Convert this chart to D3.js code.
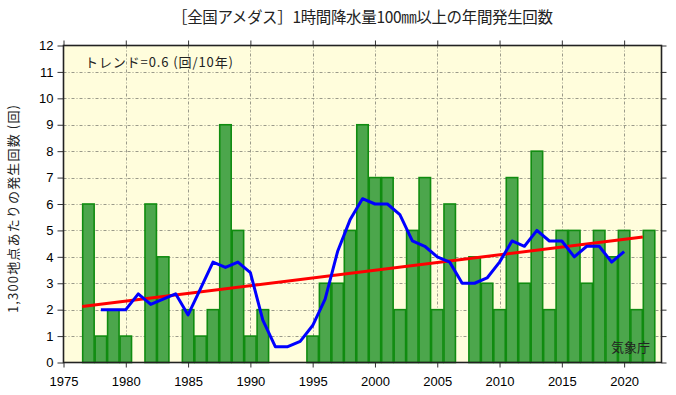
<!DOCTYPE html>
<html><head><meta charset="utf-8">
<script src="https://cdn.jsdelivr.net/npm/d3@7"></script>
<style>body{margin:0;background:#fff}svg{display:block}</style>
</head><body>
<svg id="c" width="676" height="395"></svg>
<script>
const years = d3.range(1976, 2023);
const counts = [0,6,1,2,1,0,6,4,0,2, 1,2,9,5,1,2,0,0,0,1, 3,3,5,9,7,7,2,5,7,2, 6,0,4,3,2,7,3,8,2,5, 5,3,5,4,5,2,5];
const avgYears = d3.range(1978, 2021);
const avgValues = [2.0,2.0,2.0,2.6,2.2,2.4,2.6,1.8,2.8,3.8,3.6,3.8,3.4,1.6,0.6,0.6,0.8,1.4,2.4,4.2,5.4,6.2,6.0,6.0,5.6,4.6,4.4,4.0,3.8,3.0,3.0,3.2,3.8,4.6,4.4,5.0,4.6,4.6,4.0,4.4,4.4,3.8,4.2];
const trendYears = [1976.5, 2021.5];
const trendValues = [2.12, 4.75];
const xTicks = [1975,1980,1985,1990,1995,2000,2005,2010,2015,2020];
const yTicks = [0,1,2,3,4,5,6,7,8,9,10,11,12];
const titleText = "［全国アメダス］1時間降水量100㎜以上の年間発生回数";
const yLabel = "1,300地点あたりの発生回数 (回)";
const trendLabel = "トレンド=0.6 (回/10年)";
const sourceLabel = "気象庁";

const L = 63.5, R = 661.5, T = 45.5, B = 362.5;
const svg = d3.select("#c");
const x = d3.scaleLinear().domain([1975, 2023]).range([L, R]);
const y = d3.scaleLinear().domain([0, 12]).range([B, T]);
const jp = "'Noto Sans CJK JP', sans-serif";
const num = "'Liberation Sans', Arial, sans-serif";

svg.append("rect").attr("x", L).attr("y", T).attr("width", R-L).attr("height", B-T).attr("fill", "#fffddc");

// grid
const grid = svg.append("g").attr("stroke", "#9a9a8a").attr("stroke-width", 1).attr("stroke-dasharray", "3,2,1,2");
grid.selectAll("line.h").data(yTicks.slice(1, -1)).join("line")
  .attr("x1", L).attr("x2", R).attr("y1", d => Math.round(y(d))+0.5).attr("y2", d => Math.round(y(d))+0.5);
grid.selectAll("line.v").data(xTicks.slice(1)).join("line")
  .attr("y1", T).attr("y2", B).attr("x1", d => Math.round(x(d))+0.5).attr("x2", d => Math.round(x(d))+0.5);

// bars
const bw = x(1) - x(0);
svg.append("g").selectAll("rect").data(years.map((yr, i) => ({yr, v: counts[i]})).filter(d => d.v > 0)).join("rect")
  .attr("x", d => x(d.yr) - bw/2 + 0.5).attr("width", bw - 1)
  .attr("y", d => y(d.v)).attr("height", d => y(0) - y(d.v))
  .attr("fill", "#4ca64c").attr("stroke", "#108c10").attr("stroke-width", 1.6);

// trend
svg.append("path").datum(trendYears.map((yr, i) => [yr, trendValues[i]]))
  .attr("d", d3.line().x(d => x(d[0])).y(d => y(d[1])))
  .attr("fill", "none").attr("stroke", "#ff0000").attr("stroke-width", 3);

// moving average
svg.append("path").datum(avgYears.map((yr, i) => [yr, avgValues[i]]))
  .attr("d", d3.line().x(d => x(d[0])).y(d => y(d[1])))
  .attr("fill", "none").attr("stroke", "#0000ff").attr("stroke-width", 3).attr("stroke-linejoin", "round");

// axes
const axL = svg.append("g").attr("transform", `translate(${L},0)`)
  .call(d3.axisLeft(y).tickValues(yTicks).tickSize(6).tickPadding(4).tickFormat(d3.format("d")));
const axR = svg.append("g").attr("transform", `translate(${R},0)`)
  .call(d3.axisRight(y).tickValues(yTicks).tickSize(5).tickFormat(""));
const axB = svg.append("g").attr("transform", `translate(0,${B})`)
  .call(d3.axisBottom(x).tickValues(xTicks).tickSize(5).tickPadding(9).tickFormat(d3.format("d")));
const axT = svg.append("g").attr("transform", `translate(0,${T})`)
  .call(d3.axisTop(x).tickValues(xTicks).tickSize(5).tickFormat(""));
[axL, axR, axB, axT].forEach(a => {
  a.select(".domain").remove();
  a.selectAll(".tick line").attr("stroke", "#333");
  a.selectAll("text").attr("font-family", num).attr("font-size", 13).attr("fill", "#000");
});
svg.append("rect").attr("x", L).attr("y", T).attr("width", R-L).attr("height", B-T)
  .attr("fill", "none").attr("stroke", "#222").attr("stroke-width", 1.6);

// texts
svg.append("text").attr("x", 172).attr("y", 23)
  .attr("textLength", 381).attr("lengthAdjust", "spacing")
  .attr("font-family", jp).attr("font-size", 15.5).attr("fill", "#222").text(titleText);
svg.append("text").attr("x", 85).attr("y", 67)
  .attr("textLength", 148).attr("lengthAdjust", "spacing")
  .attr("font-family", jp).attr("font-size", 13).attr("fill", "#222").text(trendLabel);
svg.append("text").attr("x", 650).attr("y", 352).attr("text-anchor", "end")
  .attr("font-family", jp).attr("font-size", 13).attr("fill", "#222").text(sourceLabel);
svg.append("text").attr("transform", "translate(18,313) rotate(-90)")
  .attr("textLength", 208).attr("lengthAdjust", "spacing")
  .attr("font-family", jp).attr("font-size", 13).attr("fill", "#222").text(yLabel);
</script>
</body></html>
